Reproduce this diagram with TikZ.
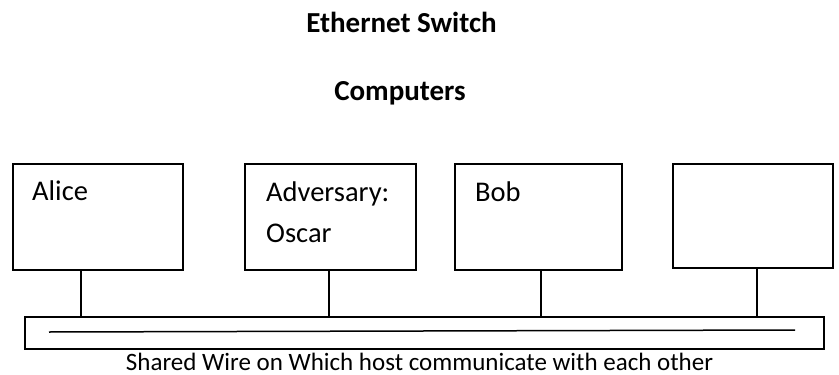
\documentclass[tikz,border=0pt]{standalone}
\usepackage{fontspec}
\setmainfont{Carlito}
\begin{document}
\begin{tikzpicture}[x=1pt,y=-1pt,
  hostbox/.style={draw=black,line width=2pt,anchor=north west,inner sep=0pt},
  lbl/.style={anchor=base west,inner sep=0pt,font=\fontsize{28.5}{34}\selectfont},
  ttl/.style={anchor=base,inner sep=0pt,font=\fontsize{29}{35}\selectfont\bfseries},
  link/.style={draw=black,line width=1.3pt},
  busbox/.style={draw=black,line width=2pt,anchor=north west,inner sep=0pt}]
\useasboundingbox (0,0) rectangle (839,375);
\node[ttl] (title) at (401.5,32) {Ethernet Switch};
\node[ttl] (comp) at (400,100) {Computers};
\node[hostbox,minimum width=170pt,minimum height=106pt] (alice) at (12,163) {};
\node[hostbox,minimum width=171pt,minimum height=106pt] (oscar) at (244,163) {};
\node[hostbox,minimum width=167pt,minimum height=106pt] (bob) at (454,163) {};
\node[hostbox,minimum width=160pt,minimum height=104pt] (other) at (672,163) {};
\node[lbl] (alicet) at (32,200) {Alice};
\node[lbl] (oscart1) at (266,201) {Adversary:};
\node[lbl] (oscart2) at (266,242) {Oscar};
\node[lbl] (bobt) at (475,201) {Bob};
\node[busbox,minimum width=799pt,minimum height=32pt] (bus) at (24,316) {};
\coordinate (wl) at (49,332);
\coordinate (wr) at (795,330);
\draw[line width=1.5pt] (wl) -- (wr);
\coordinate (xa) at (81,0);
\coordinate (xo) at (329,0);
\coordinate (xb) at (541,0);
\coordinate (xc) at (757,0);
\draw[link] (alice.south -| xa) -- (bus.north -| xa);
\draw[link] (oscar.south -| xo) -- (bus.north -| xo);
\draw[link] (bob.south -| xb) -- (bus.north -| xb);
\draw[link] (other.south -| xc) -- (bus.north -| xc);
\node[anchor=base,inner sep=0pt,font=\fontsize{25}{30}\selectfont] (cap) at (419.5,370) {Shared Wire on Which host communicate with each other};
\end{tikzpicture}
\end{document}
